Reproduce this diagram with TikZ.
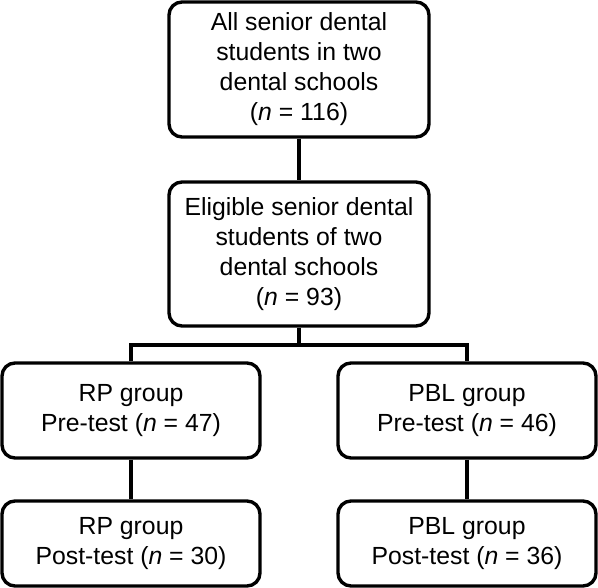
\documentclass[tikz,border=0pt]{standalone}
\usepackage{fontspec}
\setmainfont{Liberation Sans}
\begin{document}
\begin{tikzpicture}[x=1pt,y=1pt,
  box/.style={draw=black, line width=3.4pt, rounded corners=13pt, inner sep=0pt,
    align=center, font=\fontsize{24.8}{30}\selectfont},
  link/.style={draw=black, line width=3.6pt, line join=miter}]
\useasboundingbox (0,0) rectangle (598,-588);
\node[box, minimum width=260pt, minimum height=135pt] (all) at (299,-69.5)
  {All senior dental\\students in two\\dental schools\\(\textit{n} = 116)};
\node[box, minimum width=260pt, minimum height=144pt] (elig) at (299,-254)
  {Eligible senior dental\\students of two\\dental schools\\(\textit{n} = 93)};
\node[box, minimum width=258pt, minimum height=95pt] (rp1) at (131,-410.5)
  {RP group\\Pre-test (\textit{n} = 47)};
\node[box, minimum width=258pt, minimum height=95pt] (pbl1) at (467,-410.5)
  {PBL group\\Pre-test (\textit{n} = 46)};
\node[box, minimum width=258pt, minimum height=85pt] (rp2) at (131,-543.5)
  {RP group\\Post-test (\textit{n} = 30)};
\node[box, minimum width=258pt, minimum height=85pt] (pbl2) at (467,-543.5)
  {PBL group\\Post-test (\textit{n} = 36)};
\coordinate (split) at (299,-345);
\draw[link] (all.south) -- (elig.north);
\draw[link] (elig.south) -- (split);
\draw[link] (rp1.north) |- (split) -| (pbl1.north);
\draw[link] (rp1.south) -- (rp2.north);
\draw[link] (pbl1.south) -- (pbl2.north);
\end{tikzpicture}
\end{document}
